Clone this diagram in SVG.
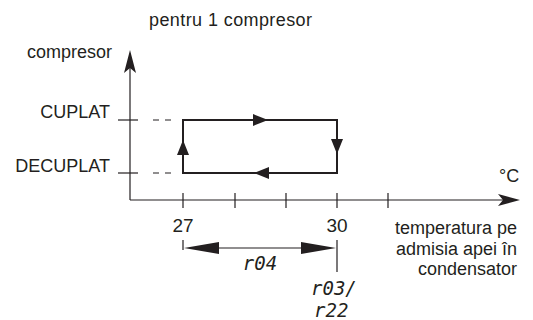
<svg xmlns="http://www.w3.org/2000/svg" width="533" height="320" viewBox="0 0 533 320">
<style>
text{font-family:"Liberation Sans",Arial,sans-serif;font-size:18px;fill:#231f20}
.num{font-size:19px}
.seg{font-family:"DejaVu Sans Mono",monospace;font-style:italic;font-size:19px;font-weight:300}
.ax{stroke:#231f20;stroke-width:1.2;fill:none}
.loop{stroke:#231f20;stroke-width:2;fill:none}
.ah{fill:#231f20}
</style>
<rect width="533" height="320" fill="#fff"/>
<g id="axes">
<line class="ax" x1="130" y1="200" x2="130" y2="62"/>
<polygon class="ah" points="130,50 124,73 130,68 136,73"/>
<line class="ax" x1="130" y1="200" x2="508" y2="200"/>
<polygon class="ah" points="520,200 498,194 503,200 498,206"/>
<line class="ax" x1="183" y1="193" x2="183" y2="208"/>
<line class="ax" x1="235" y1="193" x2="235" y2="208"/>
<line class="ax" x1="286" y1="193" x2="286" y2="208"/>
<line class="ax" x1="337" y1="193" x2="337" y2="208"/>
<line class="ax" x1="388" y1="193" x2="388" y2="208"/>
<line class="ax" x1="118" y1="120" x2="138" y2="120"/>
<line class="ax" x1="118" y1="173" x2="138" y2="173"/>
<line class="ax" x1="153" y1="120" x2="171" y2="120" stroke-dasharray="6,6"/>
<line class="ax" x1="153" y1="173" x2="171" y2="173" stroke-dasharray="6,6"/>
</g>
<g id="labels">
<text x="149" y="26" textLength="163">pentru 1 compresor</text>
<text x="112" y="58" text-anchor="end">compresor</text>
<text x="110" y="118" text-anchor="end">CUPLAT</text>
<text x="110" y="172" text-anchor="end">DECUPLAT</text>
<text x="499" y="182">°C</text>
<text x="517" y="234" text-anchor="end">temperatura pe</text>
<text x="517" y="255" text-anchor="end">admisia apei în</text>
<text x="517" y="275" text-anchor="end">condensator</text>
<text class="num" x="183" y="232" text-anchor="middle">27</text>
<text class="num" x="337" y="232" text-anchor="middle">30</text>
</g>
<g id="loop">
<rect class="loop" x="183" y="120" width="154" height="53"/>
<polygon class="ah" points="268,120 253,114 253,126"/>
<polygon class="ah" points="337,154 331,139 343,139"/>
<polygon class="ah" points="254,173 269,167 269,179"/>
<polygon class="ah" points="183,140 177,155 189,155"/>
</g>
<g id="dimension">
<line class="ax" x1="183" y1="240" x2="183" y2="250"/>
<line class="ax" x1="337" y1="240" x2="337" y2="272"/>
<line class="ax" x1="200" y1="248" x2="320" y2="248"/>
<polygon class="ah" points="184,248 219,242 219,254"/>
<polygon class="ah" points="336,248 301,242 301,254"/>
<text class="seg" x="260" y="270" text-anchor="middle">r04</text>
<text class="seg" x="311" y="295">r03/</text>
<text class="seg" x="314" y="317">r22</text>
</g>
</svg>
